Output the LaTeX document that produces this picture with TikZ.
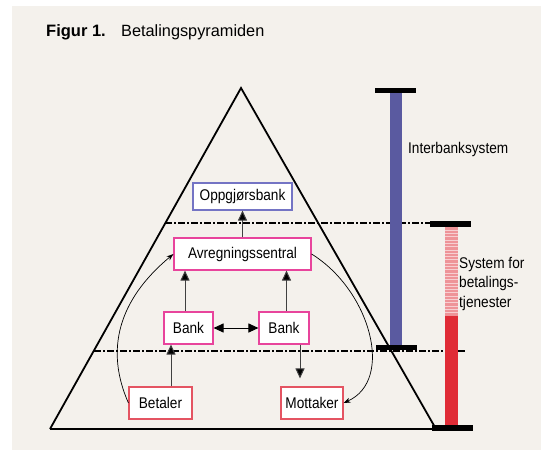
\documentclass[tikz,border=0pt]{standalone}
\usepackage{fontspec}
\setmainfont{Liberation Sans}
\newfontfamily\nfont{Liberation Sans}[FakeStretch=0.88]
\usetikzlibrary{arrows.meta}
\definecolor{bg}{HTML}{F4F1EC}
\definecolor{barblue}{HTML}{5A5AA0}
\definecolor{barred}{HTML}{E02C36}
\definecolor{barpink}{HTML}{EE9498}
\definecolor{obl}{HTML}{7474C4}
\definecolor{pk}{HTML}{E8449C}
\definecolor{rd}{HTML}{E45462}
\begin{document}
\begin{tikzpicture}[x=1pt,y=-1pt,
  box/.style={draw, fill=white, line width=1.1pt, inner sep=0pt,
    font=\nfont\fontsize{15.5}{18}\selectfont},
  lbl/.style={inner sep=0pt, font=\nfont\fontsize{15.5}{19.5}\selectfont},
  arr/.style={draw=black!75, line width=1pt, -{Triangle[length=10pt,width=9pt,fill=black]}},
  darr/.style={line width=1pt, {Triangle[length=10pt,width=9pt]}-{Triangle[length=10pt,width=9pt]}},
  carr/.style={line width=0.7pt, -{Stealth[length=7pt,width=5pt]}},
  dd/.style={line width=1.8pt, dash pattern=on 7pt off 2pt on 2pt off 2pt},
  barcap/.style={fill=black}]
\useasboundingbox (0,0) rectangle (541,450);
\fill[bg] (12,6) rectangle (541,450);
% title
\node[anchor=base west, inner sep=0pt, font=\fontsize{16.5}{19}\selectfont\bfseries] (t1) at (46,36) {Figur 1.};
\node[anchor=base west, inner sep=0pt, font=\fontsize{16.3}{19}\selectfont] (t2) at (121,36) {Betalingspyramiden};
% pyramid
\draw[line width=1.8pt, line join=miter] (50,429) -- (241,88) -- (436,429);
\draw[line width=1.8pt] (50,429) -- (440,429);
% dash-dot levels
\draw[dd] (165,223) -- (430,223);
\draw[dd] (94,351) -- (466,351);
% interbank bar
\fill[barblue] (390,90) rectangle (402,347);
\fill[barcap] (375,88) rectangle (416,93);
\fill[barcap] (376,345) rectangle (417,350);
% payment services bar
\fill[barpink] (445,227) rectangle (458,316);
\foreach \yy in {230,233.3,...,314} \draw[white!55!barpink, line width=0.6pt] (445,\yy) -- (458,\yy);
\fill[barred] (445,316) rectangle (458,428);
\fill[barcap] (430,221) rectangle (471,227);
\fill[barcap] (432,425) rectangle (473,431);
% labels
\node[lbl, anchor=base west] (ib) at (408,153) {Interbanksystem};
\node[lbl, anchor=north west, align=left] (sb) at (459,257) {System for\\betalings-\\tjenester};
% nodes
\node[box, draw=obl, minimum width=99pt, minimum height=27pt] (opp) at (242.5,196.5) {Oppgjørsbank};
\node[box, draw=pk, minimum width=137pt, minimum height=32pt] (avr) at (242.5,254) {Avregningssentral};
\node[box, draw=pk, minimum width=49pt, minimum height=32pt] (b1) at (188.5,328) {Bank};
\node[box, draw=pk, minimum width=50pt, minimum height=32pt] (b2) at (284,328) {Bank};
\node[box, draw=rd, minimum width=63pt, minimum height=32pt] (bet) at (160.5,403) {Betaler};
\node[box, draw=rd, minimum width=62pt, minimum height=32pt] (mot) at (312,403) {Mottaker};
% arrows
\draw[arr] (avr.north) -- (opp.south);
\draw[arr] ([xshift=-3.5pt]b1.north) -- ([xshift=-3.5pt]b1.north |- avr.south);
\draw[arr] ([xshift=2.5pt]b2.north) -- ([xshift=2.5pt]b2.north |- avr.south);
\draw[darr] (b1.east) -- (b2.west);
\draw[arr] ([xshift=10.5pt]bet.north) -- ([xshift=10.5pt]bet.north |- b1.south);
\draw[arr, shorten >=8pt] ([xshift=16pt]b2.south) -- ([xshift=16pt]b2.south |- mot.north);
\draw[carr] (bet.west) .. controls (105,350) and (118,300) .. (avr.west);
\draw[carr] (avr.east) .. controls (370,290) and (395,380) .. (mot.east);
\end{tikzpicture}
\end{document}
